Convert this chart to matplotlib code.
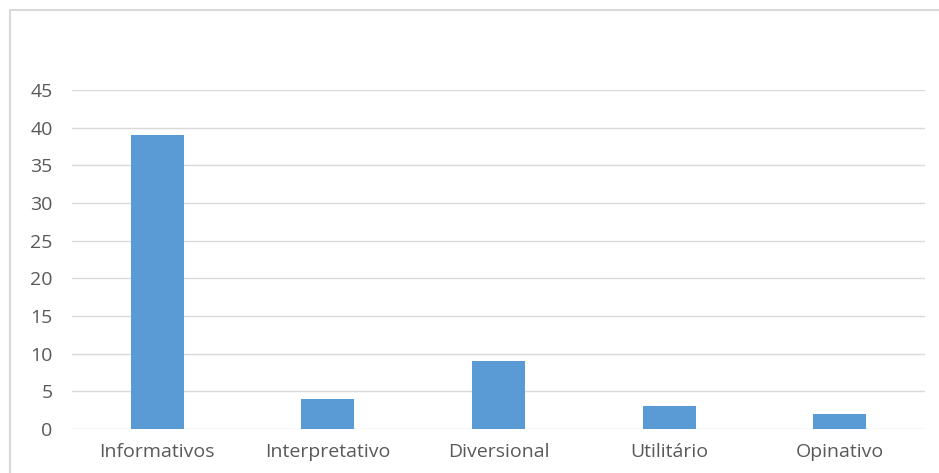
import matplotlib
matplotlib.use("Agg")
import matplotlib.pyplot as plt
from matplotlib.patches import Rectangle

categories = ["Informativos", "Interpretativo", "Diversional", "Utilitário", "Opinativo"]
values = [39, 4, 9, 3, 2]
yticks = [0, 5, 10, 15, 20, 25, 30, 35, 40, 45]

W, H = 939, 473
fig = plt.figure(figsize=(W / 100, H / 100), dpi=100)
plt.rcParams["font.family"] = ["Open Sans", "DejaVu Sans"]

# chart frame
fig.patches.append(Rectangle((9.5 / W, -0.1), 1.1, 1.1 - 10 / H,
                             transform=fig.transFigure, fill=False,
                             edgecolor="#D9D9D9", linewidth=1.5))

ax = fig.add_axes([72 / W, 44 / H, (925 - 72) / W, (429 - 90) / H])
x = range(len(categories))
ax.bar(x, values, width=0.31, color="#5B9BD5", zorder=3)
ax.set_xlim(-0.5, len(categories) - 0.5)
ax.set_ylim(0, 45)
ax.set_yticks(yticks)
ax.set_xticks(list(x))
ax.set_xticklabels(categories)
ax.grid(axis="y", color="#D9D9D9", linewidth=1.0, zorder=0)
for s in ax.spines.values():
    s.set_visible(False)
ax.tick_params(axis="both", length=0, labelsize=14, colors="#595959")
ax.tick_params(axis="y", pad=14)
ax.tick_params(axis="x", pad=10)

fig.savefig("out.png", dpi=100)
